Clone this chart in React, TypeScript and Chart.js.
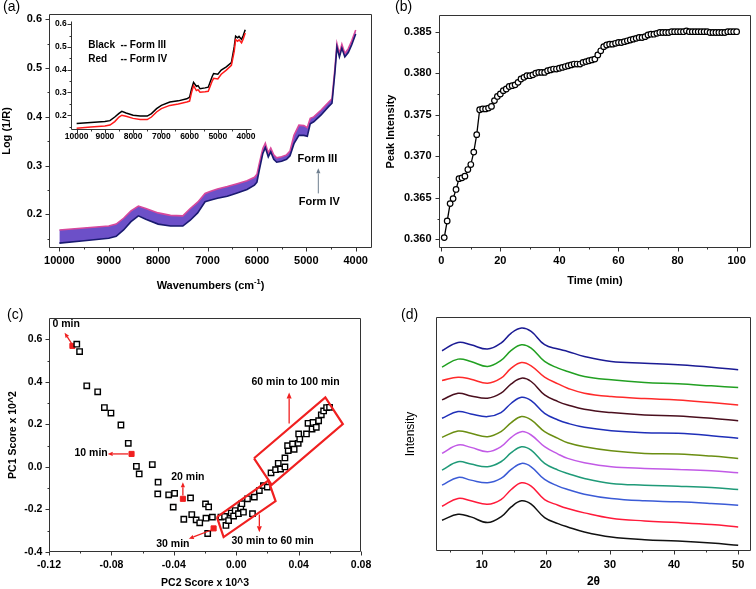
import React, { useEffect, useRef } from 'react';
import { Chart, registerables } from 'chart.js';
Chart.register(...registerables);

const FONT = '"Liberation Sans", Arial, sans-serif';
Chart.defaults.font.family = FONT;
Chart.defaults.color = '#000';

// ---------- (a) NIR spectra ----------
const specWn = [10000, 9500, 9000, 8850, 8700, 8550, 8400, 8250, 8000, 7750, 7500, 7350, 7200, 7050, 6950, 6800, 6600, 6400, 6200, 6050, 6000, 5950, 5880, 5830, 5770, 5720, 5660, 5600, 5500, 5400, 5330, 5250, 5150, 5050, 4980, 4920, 4850, 4700, 4550, 4480, 4420, 4380, 4330, 4280, 4220, 4150, 4080, 4000];
const specUpper = [0.168, 0.172, 0.176, 0.180, 0.192, 0.207, 0.217, 0.212, 0.203, 0.198, 0.197, 0.212, 0.225, 0.243, 0.247, 0.252, 0.257, 0.263, 0.269, 0.276, 0.282, 0.305, 0.335, 0.346, 0.326, 0.336, 0.322, 0.316, 0.318, 0.322, 0.330, 0.362, 0.383, 0.382, 0.378, 0.397, 0.400, 0.414, 0.430, 0.437, 0.500, 0.550, 0.530, 0.549, 0.530, 0.540, 0.556, 0.578];
const specLower = [0.141, 0.146, 0.151, 0.155, 0.168, 0.185, 0.197, 0.190, 0.180, 0.176, 0.176, 0.188, 0.203, 0.226, 0.229, 0.233, 0.237, 0.244, 0.251, 0.260, 0.266, 0.292, 0.325, 0.337, 0.318, 0.328, 0.313, 0.307, 0.309, 0.313, 0.320, 0.345, 0.362, 0.362, 0.360, 0.386, 0.390, 0.404, 0.421, 0.428, 0.492, 0.543, 0.523, 0.541, 0.523, 0.532, 0.548, 0.570];

const insetWn = [10000, 9500, 9000, 8820, 8650, 8500, 8400, 8250, 8000, 7750, 7500, 7350, 7170, 7000, 6700, 6400, 6100, 6000, 5930, 5860, 5760, 5700, 5630, 5450, 5340, 5200, 5150, 5000, 4880, 4700, 4520, 4420, 4370, 4300, 4250, 4160, 4100, 4030];
const insetFormIII = [0.164, 0.168, 0.172, 0.176, 0.192, 0.208, 0.217, 0.210, 0.200, 0.196, 0.196, 0.207, 0.229, 0.243, 0.258, 0.263, 0.272, 0.279, 0.315, 0.344, 0.327, 0.330, 0.316, 0.320, 0.323, 0.370, 0.383, 0.380, 0.398, 0.412, 0.431, 0.500, 0.547, 0.540, 0.546, 0.533, 0.550, 0.575];
const insetFormIV = [0.143, 0.148, 0.153, 0.157, 0.172, 0.192, 0.200, 0.195, 0.186, 0.181, 0.181, 0.192, 0.214, 0.229, 0.243, 0.249, 0.258, 0.262, 0.300, 0.330, 0.308, 0.312, 0.301, 0.303, 0.305, 0.350, 0.362, 0.359, 0.380, 0.398, 0.419, 0.480, 0.532, 0.525, 0.531, 0.518, 0.535, 0.561];

const aXTicks = [4000, 5000, 6000, 7000, 8000, 9000, 10000];
const aXMinor = [4500, 5500, 6500, 7500, 8500, 9500];
const aYTicks = [0.2, 0.3, 0.4, 0.5, 0.6];
const aYMinor = [0.15, 0.25, 0.35, 0.45, 0.55];

// ---------- (b) peak intensity vs time ----------
const peakIntensity = [
  0.3602, 0.3622, 0.3643, 0.3649, 0.3660, 0.3673, 0.3674, 0.3676, 0.3684, 0.3690,
  0.3705, 0.3726, 0.3756, 0.3757, 0.3757, 0.3758, 0.3760, 0.3767, 0.3772, 0.3775,
  0.3779, 0.3781, 0.3784, 0.3785, 0.3786, 0.3789, 0.3793, 0.3795, 0.3797, 0.3797,
  0.3798, 0.3800, 0.3801, 0.3801, 0.3801, 0.3803, 0.3804, 0.3805, 0.3805, 0.3806,
  0.3807, 0.3808, 0.3809, 0.3810, 0.3811, 0.3811, 0.3811, 0.3813, 0.3814, 0.3815,
  0.3816, 0.3817, 0.3822, 0.3827, 0.3832, 0.3834, 0.3835, 0.3835, 0.3836, 0.3837,
  0.3837, 0.3838, 0.3839, 0.3840, 0.3841, 0.3842, 0.3843, 0.3843, 0.3844, 0.3846,
  0.3847, 0.3847, 0.3848, 0.3849, 0.3849, 0.3849, 0.3849, 0.3850, 0.3850, 0.3850,
  0.3850, 0.3850, 0.3851, 0.3850, 0.3850, 0.3850, 0.3850, 0.3850, 0.3850, 0.3850,
  0.3849, 0.3849, 0.3849, 0.3849, 0.3849, 0.3849, 0.3850, 0.3850, 0.3850, 0.3850,
];
const timeMin = peakIntensity.map((_, i) => i + 1);
const bXTicks = [0, 20, 40, 60, 80, 100];
const bXMinor = [10, 30, 50, 70, 90];
const bYTicks = [0.360, 0.365, 0.370, 0.375, 0.380, 0.385];
const bYMinor = [0.3625, 0.3675, 0.3725, 0.3775, 0.3825];

// ---------- (c) PCA scores ----------
const pc2 = [-0.1022, -0.1004, -0.0958, -0.0888, -0.0845, -0.0803, -0.0739, -0.0692, -0.0640, -0.0622, -0.0538, -0.0501, -0.0503, -0.0433, -0.0395, -0.0404, -0.0293, -0.0336, -0.0285, -0.0257, -0.0234, -0.0197, -0.0177, -0.0194, -0.0153, -0.0183,
  -0.0098, -0.0075, -0.0066, -0.0049, -0.0032, -0.0017, -0.0007, 0.0014, 0.0029, 0.0036, 0.0046, 0.0072, 0.0104, 0.0116, 0.0148, 0.0174, 0.0199,
  0.0223, 0.0252, 0.0269, 0.0284, 0.0312, 0.0312, 0.0333, 0.0329, 0.0361, 0.0371, 0.0397, 0.0407, 0.0400, 0.0450, 0.0460, 0.0486, 0.0492, 0.0513, 0.0528, 0.0545, 0.0560, 0.0579, 0.0598];
const pc1 = [0.577, 0.542, 0.381, 0.353, 0.279, 0.253, 0.197, 0.111, 0.003, -0.033, 0.011, -0.072, -0.127, -0.131, -0.124, -0.189, -0.146, -0.246, -0.224, -0.249, -0.263, -0.174, -0.188, -0.241, -0.236, -0.313,
  -0.236, -0.233, -0.275, -0.252, -0.217, -0.231, -0.205, -0.220, -0.192, -0.173, -0.213, -0.150, -0.220, -0.142, -0.111, -0.088, -0.095,
  -0.028, -0.013, 0.017, -0.010, 0.000, 0.042, 0.077, 0.100, 0.108, 0.083, 0.111, 0.131, 0.155, 0.155, 0.205, 0.178, 0.209, 0.186, 0.217, 0.245, 0.263, 0.279, 0.280];
const markPc2 = [-0.1050, -0.0671, -0.0342, -0.0145];
const markPc1 = [0.569, 0.061, -0.150, -0.289];
const boxLatePc2 = [0.0114, 0.0571, 0.0683, 0.0227, 0.0114];
const boxLatePc1 = [0.0406, 0.3266, 0.2016, -0.0844, 0.0406];
const boxMidPc2 = [-0.0124, 0.0206, 0.0252, -0.0081, -0.0124];
const boxMidPc1 = [-0.2359, -0.0641, -0.1610, -0.3297, -0.2359];
const cXTicks = [-0.12, -0.08, -0.04, 0, 0.04, 0.08];
const cXMinor = [-0.10, -0.06, -0.02, 0.02, 0.06];
const cYTicks = [-0.4, -0.2, 0, 0.2, 0.4, 0.6];
const cYMinor = [-0.3, -0.1, 0.1, 0.3, 0.5];

// ---------- (d) XRD patterns ----------
const twoTheta = [3.8, 6.3, 8.3, 10.9, 13.0, 14.6, 16.2, 17.7, 19.8, 21.9, 23.4, 26.0, 30.2, 35.4, 40.6, 45.8, 50];
const xrd1 = [59.9, 62.4, 61.7, 60.4, 62.2, 65.2, 66.7, 65.7, 61.7, 60.4, 59.7, 58.2, 56.7, 56.2, 55.7, 55.0, 54.2];
const xrd2 = [55.0, 57.4, 56.7, 55.2, 57.0, 60.0, 61.7, 60.7, 56.7, 54.7, 53.7, 52.2, 51.2, 50.4, 50.0, 49.4, 48.9];
const xrd3 = [51.0, 52.0, 51.4, 50.2, 51.7, 54.7, 56.4, 55.4, 52.0, 50.0, 48.7, 47.2, 46.2, 45.6, 45.2, 44.4, 43.7];
const xrd4 = [45.2, 47.2, 46.4, 45.7, 47.2, 50.0, 51.7, 50.7, 46.7, 44.7, 43.7, 42.4, 41.4, 40.7, 40.4, 39.7, 39.0];
const xrd5 = [39.7, 41.7, 41.0, 40.2, 41.4, 44.2, 46.0, 45.0, 41.2, 39.2, 38.2, 37.0, 36.0, 35.4, 35.2, 34.5, 33.7];
const xrd6 = [34.0, 35.9, 35.2, 34.2, 35.7, 38.4, 40.2, 39.2, 35.7, 33.7, 32.4, 31.2, 30.0, 29.2, 29.0, 28.4, 27.7];
const xrd7 = [29.2, 31.7, 31.0, 29.7, 31.2, 34.0, 35.7, 34.7, 31.2, 29.0, 27.7, 26.4, 25.2, 24.7, 24.4, 24.0, 23.4];
const xrd8 = [24.2, 26.7, 26.0, 25.2, 26.7, 29.4, 31.2, 30.2, 26.2, 24.2, 23.2, 21.7, 20.2, 19.7, 19.4, 19.0, 18.4];
const xrd9 = [19.7, 22.0, 21.2, 20.4, 21.7, 24.4, 26.2, 25.2, 21.4, 19.4, 18.4, 17.0, 15.7, 15.0, 14.7, 14.2, 13.7];
const xrd10 = [13.4, 15.7, 15.0, 14.0, 15.4, 18.4, 20.4, 19.4, 15.4, 13.7, 12.7, 11.4, 9.8, 9.0, 8.5, 7.9, 7.2];
const xrd11 = [9.2, 11.0, 10.2, 8.5, 10.2, 13.2, 15.0, 14.0, 10.0, 8.2, 7.2, 5.7, 4.2, 3.4, 3.0, 2.4, 1.7];
const xrdSeries = [xrd1, xrd2, xrd3, xrd4, xrd5, xrd6, xrd7, xrd8, xrd9, xrd10, xrd11];
const xrdColors = ['#1b1b94', '#22a022', '#ff2a2a', '#4a0f1e', '#1f2fb8', '#6b8e12', '#c25ae6', '#1f9a78', '#3b5bd6', '#ff1a3a', '#111111'];
const dXTicks = [10, 20, 30, 40, 50];
const dXMinor = [5, 15, 25, 35, 45];

// ---------- helpers ----------
type Txt = { x: number; y: number; text: string; size?: number; bold?: boolean; color?: string; align?: CanvasTextAlign };
type Arrow = { x1: number; y1: number; x2: number; y2: number; color: string; width: number; head: number };
type Deco = {
  frame: 'box' | 'axes';
  xMajor: number[]; xMinor: number[]; yMajor: number[]; yMinor: number[];
  texts?: Txt[]; arrows?: Arrow[];
  label?: { text: string; x: number; y: number };
  supTitle?: { main: string; sup: string; tail: string; y: number };
};

function deco(d: Deco) {
  return {
    id: 'deco',
    afterDraw(chart: any) {
      const ctx: CanvasRenderingContext2D = chart.ctx;
      const { left, right, top, bottom } = chart.chartArea;
      const xs = chart.scales.x, ys = chart.scales.y;
      const L = Math.round(left) + 0.5, R = Math.round(right) - 0.5, T = Math.round(top) + 0.5, B = Math.round(bottom) - 0.5;
      ctx.save();
      ctx.strokeStyle = '#333';
      ctx.lineWidth = 1;
      ctx.beginPath();
      if (d.frame === 'box') ctx.rect(L, T, R - L, B - T);
      else { ctx.moveTo(L, T); ctx.lineTo(L, B); ctx.lineTo(R, B); }
      const ml = 4, nl = 2;
      d.xMajor.forEach(v => { const p = Math.round(xs.getPixelForValue(v)) + 0.5; ctx.moveTo(p, B); ctx.lineTo(p, B + ml); });
      d.xMinor.forEach(v => { const p = Math.round(xs.getPixelForValue(v)) + 0.5; ctx.moveTo(p, B); ctx.lineTo(p, B + nl); });
      d.yMajor.forEach(v => { const p = Math.round(ys.getPixelForValue(v)) + 0.5; ctx.moveTo(L, p); ctx.lineTo(L - ml, p); });
      d.yMinor.forEach(v => { const p = Math.round(ys.getPixelForValue(v)) + 0.5; ctx.moveTo(L, p); ctx.lineTo(L - nl, p); });
      ctx.stroke();

      (d.arrows || []).forEach(a => {
        const x1 = xs.getPixelForValue(a.x1), y1 = ys.getPixelForValue(a.y1);
        const x2 = xs.getPixelForValue(a.x2), y2 = ys.getPixelForValue(a.y2);
        const ang = Math.atan2(y2 - y1, x2 - x1);
        const h = a.head;
        const bx = x2 - h * Math.cos(ang), by = y2 - h * Math.sin(ang);
        ctx.strokeStyle = a.color; ctx.fillStyle = a.color; ctx.lineWidth = a.width;
        ctx.beginPath(); ctx.moveTo(x1, y1); ctx.lineTo(bx, by); ctx.stroke();
        const w = h * 0.42;
        ctx.beginPath();
        ctx.moveTo(x2, y2);
        ctx.lineTo(bx + w * Math.sin(ang), by - w * Math.cos(ang));
        ctx.lineTo(bx - w * Math.sin(ang), by + w * Math.cos(ang));
        ctx.closePath(); ctx.fill();
      });

      ctx.textBaseline = 'middle';
      (d.texts || []).forEach(t => {
        ctx.font = `${t.bold === false ? '' : 'bold '}${t.size || 10.5}px ${FONT}`;
        ctx.fillStyle = t.color || '#000';
        ctx.textAlign = t.align || 'center';
        ctx.fillText(t.text, xs.getPixelForValue(t.x), ys.getPixelForValue(t.y));
      });

      if (d.supTitle) {
        const s = d.supTitle;
        ctx.fillStyle = '#000';
        ctx.textAlign = 'left';
        ctx.font = `bold 11px ${FONT}`;
        const w1 = ctx.measureText(s.main).width;
        const w3 = ctx.measureText(s.tail).width;
        ctx.font = `bold 7.5px ${FONT}`;
        const w2 = ctx.measureText(s.sup).width;
        let x = (left + right) / 2 - (w1 + w2 + w3) / 2;
        ctx.font = `bold 11px ${FONT}`;
        ctx.fillText(s.main, x, s.y); x += w1;
        ctx.font = `bold 7.5px ${FONT}`;
        ctx.fillText(s.sup, x, s.y - 4.5); x += w2;
        ctx.font = `bold 11px ${FONT}`;
        ctx.fillText(s.tail, x, s.y);
      }

      if (d.label) {
        ctx.font = `14px ${FONT}`;
        ctx.fillStyle = '#000';
        ctx.textAlign = 'left';
        ctx.fillText(d.label.text, d.label.x, d.label.y);
      }
      ctx.restore();
    },
  };
}

type AxisOpt = {
  min: number; max: number; ticks: number[]; fmt: (v: number) => string; size: number;
  font?: number; pad?: number; reverse?: boolean; show?: boolean;
  title?: string; titleFont?: number; titleBold?: boolean; titlePad?: number;
};

function axis(o: AxisOpt) {
  return {
    type: 'linear',
    min: o.min, max: o.max, reverse: !!o.reverse,
    afterBuildTicks: (s: any) => { s.ticks = o.ticks.map(v => ({ value: v })); },
    afterFit: (s: any) => { if (s.isHorizontal()) s.height = o.size; else s.width = o.size; },
    grid: { display: false, drawTicks: false },
    border: { display: false },
    ticks: {
      display: o.show !== false, autoSkip: false, maxRotation: 0, minRotation: 0,
      padding: o.pad ?? 6, color: '#000',
      font: { size: o.font ?? 11, weight: 'bold' },
      callback: (v: any) => o.fmt(Number(v)),
    },
    title: {
      display: !!o.title, text: o.title || '', color: '#000',
      font: { size: o.titleFont ?? 11, weight: o.titleBold === false ? 'normal' : 'bold' },
      padding: { top: o.titlePad ?? 0, bottom: o.titlePad ?? 0 },
    },
  };
}

const baseOpts = (padding: any, scales: any) => ({
  animation: false,
  responsive: false,
  layout: { padding },
  plugins: { legend: { display: false }, tooltip: { enabled: false } },
  scales,
});

const pts = (xs: number[], ys: number[]) => xs.map((x, i) => ({ x, y: ys[i] }));

// ---------- chart configs ----------
const cfgA = () => ({
  type: 'line',
  data: {
    datasets: [
      { data: pts(specWn, specLower), borderColor: '#1a1a70', borderWidth: 1.6, pointRadius: 0, fill: false },
      { data: pts(specWn, specUpper), borderColor: '#d8489c', borderWidth: 1.6, pointRadius: 0, fill: '-1', backgroundColor: '#6c50c8' },
    ],
  },
  options: baseOpts({ left: 0, top: 14, right: 6, bottom: 0 }, {
    x: axis({ min: 3670, max: 10210, reverse: true, ticks: aXTicks, fmt: v => String(v), size: 47, pad: 6.4 }),
    y: axis({ min: 0.131, max: 0.611, ticks: aYTicks, fmt: v => v.toFixed(1), size: 49, pad: 7, title: 'Log (1/R)', titlePad: 0.7 }),
  }),
  plugins: [deco({
    frame: 'box', xMajor: aXTicks, xMinor: aXMinor, yMajor: aYTicks, yMinor: aYMinor,
    texts: [
      { x: 4777, y: 0.3128, text: 'Form III', size: 11 },
      { x: 4737, y: 0.2246, text: 'Form IV', size: 11 },
    ],
    arrows: [{ x1: 4757, y1: 0.243, x2: 4757, y2: 0.2944, color: '#6f7f8f', width: 1, head: 5 }],
    label: { text: '(a)', x: 3, y: 7 },
    supTitle: { main: 'Wavenumbers (cm', sup: '-1', tail: ')', y: 286 },
  })],
});

const cfgInset = () => ({
  type: 'line',
  data: {
    datasets: [
      { data: pts(insetWn, insetFormIV), borderColor: '#ff1a1a', borderWidth: 1.5, pointRadius: 0 },
      { data: pts(insetWn, insetFormIII), borderColor: '#000000', borderWidth: 1.5, pointRadius: 0 },
    ],
  },
  options: baseOpts({ left: 0, top: 8, right: 10, bottom: 0 }, {
    x: axis({ min: 3790, max: 10200, reverse: true, ticks: aXTicks, fmt: v => String(v), size: 17, pad: 1.6, font: 8.5 }),
    y: axis({ min: 0.135, max: 0.612, ticks: aYTicks, fmt: v => v.toFixed(1), size: 31, pad: 4.3, font: 8.5 }),
  }),
  plugins: [deco({
    frame: 'axes', xMajor: aXTicks, xMinor: aXMinor, yMajor: aYTicks, yMinor: aYMinor,
    texts: [
      { x: 9589, y: 0.5065, text: 'Black', size: 10, align: 'left' },
      { x: 8450, y: 0.5065, text: '-- Form III', size: 10, align: 'left' },
      { x: 9589, y: 0.4459, text: 'Red', size: 10, align: 'left' },
      { x: 8450, y: 0.4459, text: '-- Form IV', size: 10, align: 'left' },
    ],
  })],
});

const cfgB = () => ({
  type: 'line',
  data: {
    datasets: [{
      data: pts(timeMin, peakIntensity), borderColor: '#000', borderWidth: 1.3,
      pointRadius: 2.8, pointBackgroundColor: '#fff', pointBorderColor: '#000', pointBorderWidth: 1.2,
    }],
  },
  options: baseOpts({ left: 0, top: 15, right: 3, bottom: 0 }, {
    x: axis({ min: -0.77, max: 104.8, ticks: bXTicks, fmt: v => String(v), size: 47, pad: 6, title: 'Time (min)', titlePad: 7.4 }),
    y: axis({ min: 0.35895, max: 0.38701, ticks: bYTicks, fmt: v => v.toFixed(3), size: 61, pad: 7.5, title: 'Peak Intensity', titlePad: 6.7 }),
  }),
  plugins: [deco({
    frame: 'box', xMajor: bXTicks, xMinor: bXMinor, yMajor: bYTicks, yMinor: bYMinor,
    label: { text: '(b)', x: 17, y: 7 },
  })],
});

const RED = '#f02020';
const cfgC = () => ({
  type: 'scatter',
  data: {
    datasets: [
      { data: pts(boxLatePc2, boxLatePc1), showLine: true, borderColor: RED, borderWidth: 2.2, pointRadius: 0, fill: false },
      { data: pts(boxMidPc2, boxMidPc1), showLine: true, borderColor: RED, borderWidth: 2.2, pointRadius: 0, fill: false },
      { data: pts(pc2, pc1), pointStyle: 'rect', pointRadius: 3.8, backgroundColor: '#fff', borderColor: '#000', borderWidth: 1.4 },
      { data: pts(markPc2, markPc1), pointStyle: 'rect', pointRadius: 3.6, backgroundColor: RED, borderColor: RED, borderWidth: 1 },
    ],
  },
  options: baseOpts({ left: 0, top: 23, right: 15, bottom: 0 }, {
    x: axis({ min: -0.12, max: 0.08, ticks: cXTicks, fmt: v => v.toFixed(2), size: 37, pad: 6.7, font: 10.5, title: 'PC2 Score x 10^3', titleFont: 10.5, titlePad: 0 }),
    y: axis({ min: -0.4, max: 0.7, ticks: cYTicks, fmt: v => v.toFixed(1), size: 49, pad: 6.6, font: 10.5, title: 'PC1 Score x 10^2', titleFont: 10.5, titlePad: 6.4 }),
  }),
  plugins: [deco({
    frame: 'box', xMajor: cXTicks, xMinor: cXMinor, yMajor: cYTicks, yMinor: cYMinor,
    texts: [
      { x: -0.109, y: 0.670, text: '0 min' },
      { x: -0.093, y: 0.0637, text: '10 min' },
      { x: -0.031, y: -0.0456, text: '20 min' },
      { x: -0.0406, y: -0.361, text: '30 min' },
      { x: 0.038, y: 0.3966, text: '60 min to 100 min' },
      { x: 0.0233, y: -0.349, text: '30 min to 60 min' },
    ],
    arrows: [
      { x1: -0.1052, y1: 0.5766, x2: -0.110, y2: 0.631, color: RED, width: 1.3, head: 5 },
      { x1: -0.0692, y1: 0.061, x2: -0.0824, y2: 0.061, color: RED, width: 1.3, head: 5 },
      { x1: -0.0342, y1: -0.1346, x2: -0.0342, y2: -0.0722, color: RED, width: 1.3, head: 5 },
      { x1: -0.0155, y1: -0.2954, x2: -0.0304, y2: -0.3376, color: RED, width: 1.3, head: 5 },
      { x1: 0.0339, y1: 0.2043, x2: 0.0339, y2: 0.35, color: RED, width: 1.3, head: 6 },
      { x1: 0.0148, y1: -0.2237, x2: 0.0148, y2: -0.3067, color: RED, width: 1.3, head: 6 },
    ],
    label: { text: '(c)', x: 7, y: 20 },
  })],
});

const cfgD = () => ({
  type: 'line',
  data: {
    datasets: xrdSeries.map((s, i) => ({
      data: pts(twoTheta, s), borderColor: xrdColors[i], borderWidth: 1.5, pointRadius: 0, tension: 0.4, fill: false,
    })),
  },
  options: baseOpts({ left: 0, top: 22, right: 5, bottom: 0 }, {
    x: axis({ min: 2.86, max: 52.0, ticks: dXTicks, fmt: v => String(v), size: 38, pad: 7.4, title: '2θ', titleFont: 12, titlePad: 0 }),
    y: axis({ min: 0, max: 70, ticks: [], fmt: v => String(v), size: 58, show: false, title: 'Intensity', titleFont: 12, titleBold: false, titlePad: 25.8 }),
  }),
  plugins: [deco({
    frame: 'box', xMajor: dXTicks, xMinor: dXMinor, yMajor: [], yMinor: [],
    label: { text: '(d)', x: 23, y: 20 },
  })],
});

function Panel({ x, y, w, h, make }: { x: number; y: number; w: number; h: number; make: () => any }) {
  const ref = useRef<HTMLCanvasElement>(null);
  useEffect(() => {
    const chart = new Chart(ref.current as HTMLCanvasElement, make());
    return () => chart.destroy();
  }, []);
  return (
    <canvas ref={ref} width={w} height={h}
      style={{ position: 'absolute', left: x, top: y, width: w, height: h, display: 'block' }} />
  );
}

export default function App() {
  return (
    <div style={{ position: 'absolute', left: 0, top: 0, width: 756, height: 589, background: '#fff' }}>
      <Panel x={0} y={0} w={378} h={295} make={cfgA} />
      <Panel x={40} y={12} w={222} h={135} make={cfgInset} />
      <Panel x={378} y={0} w={378} h={295} make={cfgB} />
      <Panel x={0} y={295} w={378} h={294} make={cfgC} />
      <Panel x={378} y={295} w={378} h={294} make={cfgD} />
    </div>
  );
}
